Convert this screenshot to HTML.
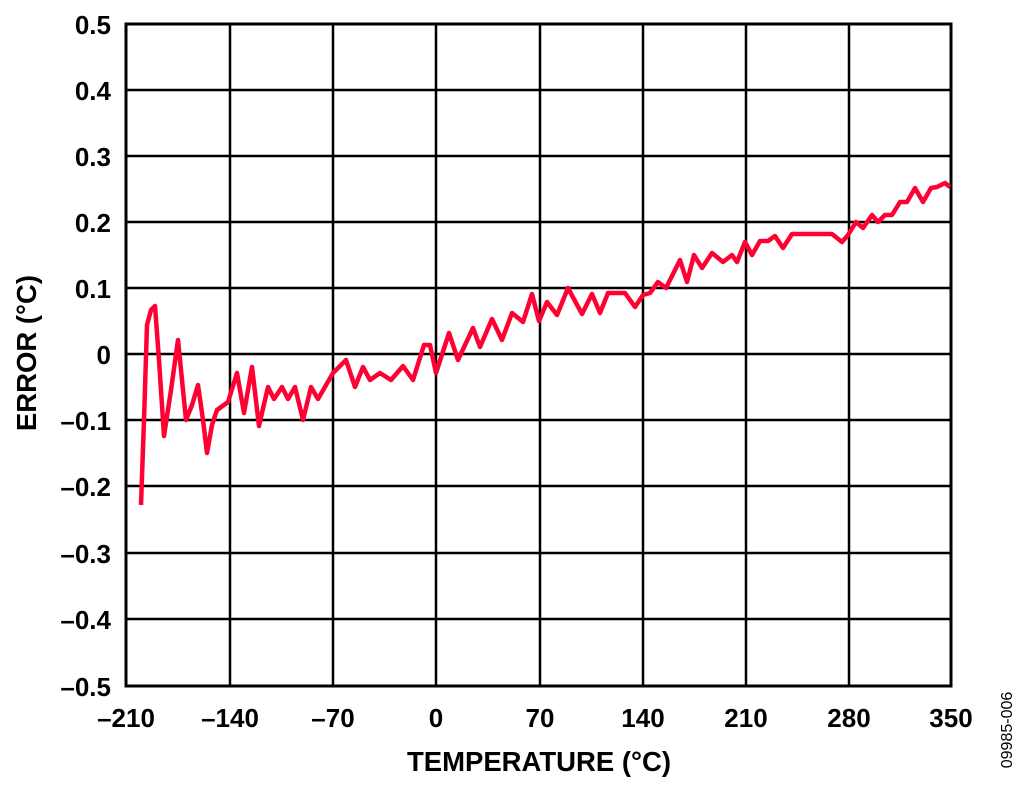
<!DOCTYPE html>
<html><head><style>body{margin:0;background:#fff}svg{display:block}text{font-family:"Liberation Sans",Arial,sans-serif;font-weight:bold}</style></head><body>
<svg width="1024" height="788" xmlns="http://www.w3.org/2000/svg">
<g stroke="#000" stroke-width="2.5" fill="none">
<rect x="126" y="24" width="825" height="662" stroke-width="3"/>
<path d="M230 24V686M333 24V686M436 24V686M540 24V686M643 24V686M746 24V686M849 24V686"/>
<path d="M126 90H951M126 156H951M126 222H951M126 288H951M126 354H951M126 420H951M126 486H951M126 553H951M126 619H951"/>
</g>
<polyline fill="none" stroke="#ff0033" stroke-width="4.5" stroke-linejoin="round" stroke-linecap="butt" points="141,505 144,420 147,325 151,310 155,306 159,360 164,436 171,390 178,340 182,380 186,420 192,405 198,385 203,420 207,453 212,425 217,410 228,402 237,373 244,413 252,367 259,426 268,387 274,399 282,387 288,399 295,387 303,420 311,387 318,399 333,373 346,360 355,387 363,367 370,380 380,373 391,380 403,366 413,380 424,345 430,345 436,373 449,333 458,360 473,328 480,347 492,319 502,340 512,313 523,322 532,294 539,321 547,302 557,315 568,288 582,314 592,294 600,313 608,293 625,293 635,307 643,295 650,293 658,282 666,288 680,260 687,282 694,255 702,268 712,253 723,262 732,255 737,262 745,242 752,255 760,241 768,241 775,236 783,248 792,234 832,234 842,242 848,235 856,222 863,228 872,215 878,222 885,215 892,215 900,202 907,202 915,188 923,202 931,188 937,187 945,183 950,187"/>
<g font-size="26" text-anchor="end">
<text x="111" y="34">0.5</text><text x="111" y="100">0.4</text><text x="111" y="166">0.3</text><text x="111" y="232">0.2</text><text x="111" y="298">0.1</text><text x="111" y="364">0</text><text x="111" y="430">–0.1</text><text x="111" y="496">–0.2</text><text x="111" y="563">–0.3</text><text x="111" y="629">–0.4</text><text x="111" y="696">–0.5</text>
</g>
<g font-size="26" text-anchor="middle">
<text x="126" y="727">–210</text><text x="230" y="727">–140</text><text x="333" y="727">–70</text><text x="436" y="727">0</text><text x="540" y="727">70</text><text x="643" y="727">140</text><text x="746" y="727">210</text><text x="849" y="727">280</text><text x="951" y="727">350</text>
</g>
<text x="539" y="771" font-size="27.5" text-anchor="middle">TEMPERATURE (°C)</text>
<text transform="translate(36,353) rotate(-90)" font-size="27.5" text-anchor="middle">ERROR (°C)</text>
<text transform="translate(1012,730) rotate(-90)" font-size="16" style="font-weight:normal" text-anchor="middle">09985-006</text>
</svg>
</body></html>
